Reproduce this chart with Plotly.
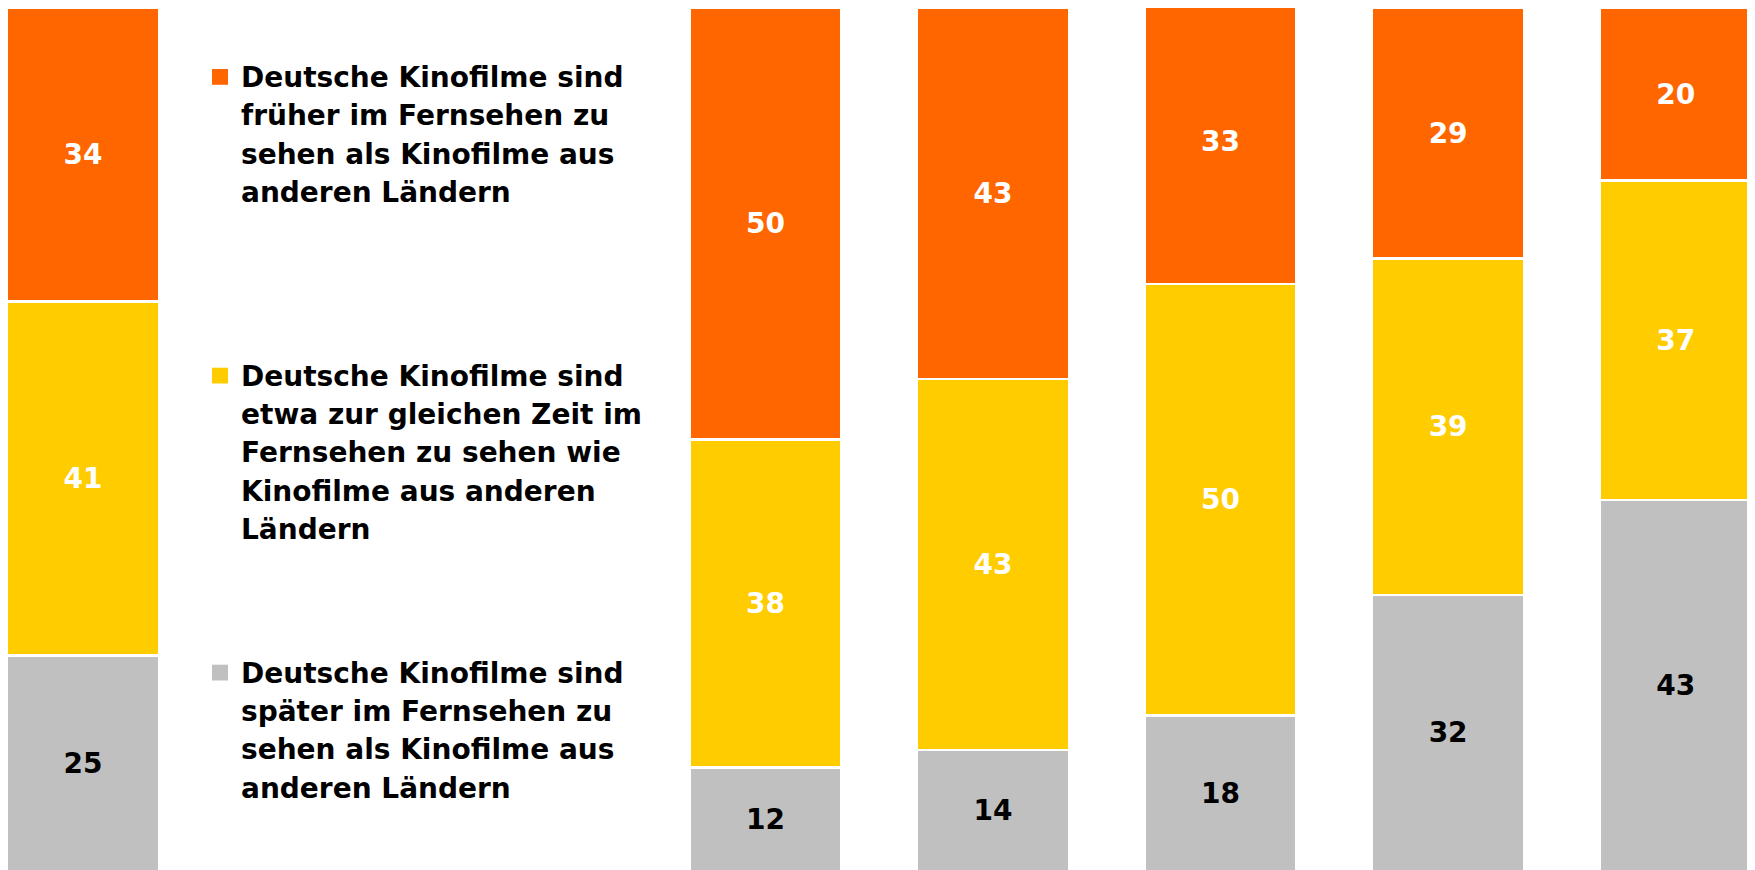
import plotly.graph_objects as go

# ---------------- data ----------------
categories = ["Insgesamt", "Gruppe 1", "Gruppe 2", "Gruppe 3", "Gruppe 4", "Gruppe 5"]
frueher = [34, 50, 43, 33, 29, 20]
gleich = [41, 38, 43, 50, 39, 37]
spaeter = [25, 12, 14, 18, 32, 43]

series_names = [
    "Deutsche Kinofilme sind<br>früher im Fernsehen zu<br>sehen als Kinofilme aus<br>anderen Ländern",
    "Deutsche Kinofilme sind<br>etwa zur gleichen Zeit im<br>Fernsehen zu sehen wie<br>Kinofilme aus anderen<br>Ländern",
    "Deutsche Kinofilme sind<br>später im Fernsehen zu<br>sehen als Kinofilme aus<br>anderen Ländern",
]
colors = ["#FF6600", "#FFCC00", "#C0C0C0"]
label_colors = ["#FFFFFF", "#FFFFFF", "#000000"]

# two empty slots on the category axis leave room for the legend text
axis_order = [categories[0], "_leer1", "_leer2"] + categories[1:]

W, H = 1755, 870
M_TOP, M_BOT = 0, 7
PLOT_H = H - M_TOP - M_BOT
FONT = "DejaVu Sans"

fig = go.Figure()
values = [frueher, gleich, spaeter]
# draw bottom (später) first, top (früher) last
for idx in [2, 1, 0]:
    fig.add_trace(go.Bar(
        x=categories,
        y=values[idx],
        name=series_names[idx].replace("<br>", " "),
        width=0.667,
        marker=dict(color=colors[idx], line=dict(color="white", width=2.5)),
        texttemplate="%{y}",
        textposition="inside",
        insidetextanchor="middle",
        textangle=0,
        textfont=dict(family=FONT, size=28, color=label_colors[idx], weight="bold"),
        hoverinfo="skip",
        showlegend=False,
    ))

def py(px):
    """pixel y (from top of figure) -> paper y"""
    return 1 - (px - M_TOP) / PLOT_H

# legend blocks drawn as text + square marker
first_baselines = [79.3, 378.0, 675.0]
line_step = 38.3
text_x_px = 232
fs = 28
annotations = []
shapes = []
for i, name in enumerate(series_names):
    lines = name.split("<br>")
    b0 = first_baselines[i]
    for k, line in enumerate(lines):
        base = b0 + k * line_step
        annotations.append(dict(
            x=text_x_px / W, y=py(base - 0.346 * fs), xref="paper", yref="paper",
            xanchor="left", yanchor="middle", text=line, showarrow=False,
            borderpad=0, align="left",
            font=dict(family=FONT, size=fs, color="#000000", weight="bold"),
        ))
    shapes.append(dict(
        type="rect", xref="paper", yref="paper",
        x0=204 / W, x1=220 / W, y0=py(b0 - 2.5), y1=py(b0 - 18.3),
        fillcolor=colors[i], line=dict(width=0),
    ))

fig.update_layout(
    width=W, height=H,
    margin=dict(l=0, r=0, t=M_TOP, b=M_BOT, pad=0),
    barmode="stack",
    paper_bgcolor="white",
    plot_bgcolor="white",
    xaxis=dict(type="category", categoryorder="array", categoryarray=axis_order,
               range=[-0.3297, 7.384], visible=False, fixedrange=True),
    yaxis=dict(range=[0, 100], visible=False, fixedrange=True),
    annotations=annotations,
    shapes=shapes,
    showlegend=False,
)

fig.write_html("out.html")
